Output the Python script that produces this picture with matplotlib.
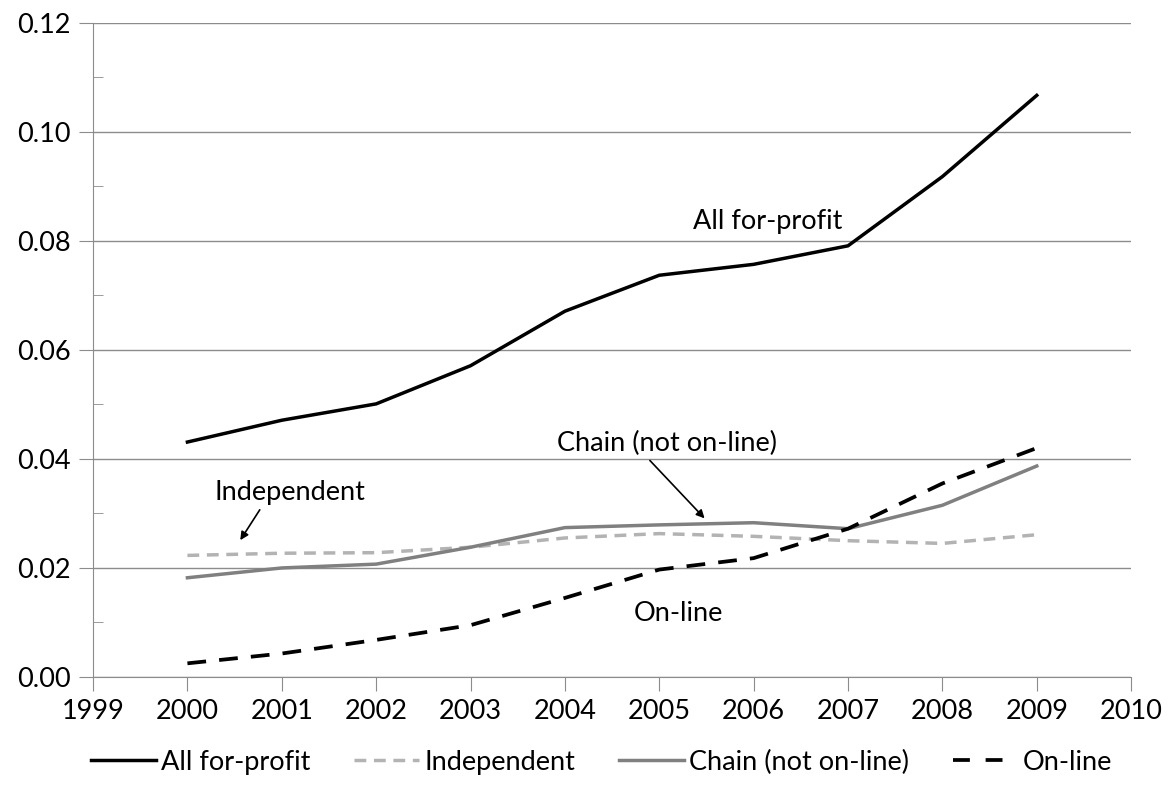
import matplotlib.pyplot as plt
from matplotlib.ticker import MultipleLocator

plt.rcParams['font.family'] = ['Lato', 'DejaVu Sans']

years = [2000, 2001, 2002, 2003, 2004, 2005, 2006, 2007, 2008, 2009]
all_for_profit = [0.0431, 0.0471, 0.0501, 0.0571, 0.0671, 0.0737, 0.0757, 0.0791, 0.0918, 0.1067]
independent = [0.0223, 0.0227, 0.0228, 0.0238, 0.0255, 0.0263, 0.0258, 0.0250, 0.0245, 0.0261]
chain = [0.0182, 0.0200, 0.0207, 0.0238, 0.0274, 0.0279, 0.0283, 0.0272, 0.0315, 0.0387]
online = [0.0025, 0.0043, 0.0068, 0.0095, 0.0145, 0.0197, 0.0218, 0.0272, 0.0355, 0.0420]

fig = plt.figure(figsize=(11.69, 7.89), dpi=100)
ax = fig.add_axes([0.0796, 0.142, 0.888, 0.829])

grid_col = '#8c8c8c'
fs = 19.5
ax.plot(years, all_for_profit, color='black', lw=2.5, label='All for-profit')
ax.plot(years, independent, color='#b3b3b3', lw=2.5, dashes=(3.4, 2.2), label='Independent')
ax.plot(years, chain, color='#808080', lw=2.5, label='Chain (not on-line)')
ax.plot(years, online, color='black', lw=2.7, dashes=(5, 3.5), label='On-line')

ax.set_xlim(1999, 2010)
ax.set_ylim(0, 0.12)
ax.set_xticks(range(1999, 2011))
ax.yaxis.set_major_locator(MultipleLocator(0.02))
ax.yaxis.set_minor_locator(MultipleLocator(0.01))
ax.yaxis.set_major_formatter(plt.FuncFormatter(lambda v, p: f'{v:.2f}'))
ax.grid(axis='y', color=grid_col, lw=1)
ax.set_axisbelow(True)
for s in ['top', 'right']:
    ax.spines[s].set_visible(False)
for s in ['left', 'bottom']:
    ax.spines[s].set_color(grid_col)
ax.tick_params(axis='both', which='major', direction='out', length=10, color=grid_col,
               labelsize=fs, pad=6)
ax.tick_params(axis='y', which='minor', direction='in', length=7, color=grid_col)

ax.text(2005.36, 0.0835, 'All for-profit', fontsize=fs, ha='left', va='center')
ax.annotate('Chain (not on-line)', xy=(2005.48, 0.0291), xytext=(2003.92, 0.0429),
            fontsize=fs, ha='left', va='center',
            arrowprops=dict(arrowstyle='-|>', color='black', lw=1.2, mutation_scale=12,
                            shrinkA=2, shrinkB=0, relpos=(0.4, 0.0)))
ax.annotate('Independent', xy=(2000.56, 0.0251), xytext=(2000.29, 0.0339),
            fontsize=fs, ha='left', va='center',
            arrowprops=dict(arrowstyle='-|>', color='black', lw=1.2, mutation_scale=12,
                            shrinkA=2, shrinkB=0, relpos=(0.32, 0.0)))
ax.text(2004.73, 0.0116, 'On-line', fontsize=fs, ha='left', va='center')

leg = ax.legend(loc='lower center', bbox_to_anchor=(0.49, -0.187), ncol=4, frameon=False,
                fontsize=fs, handlelength=2.4, handletextpad=0.2, columnspacing=1.6)
# legend handle for On-line: two dashes with a gap before the label
leg.get_lines()[3].set_dashes((4.5, 4.2))

fig.savefig('out.png', dpi=100)
